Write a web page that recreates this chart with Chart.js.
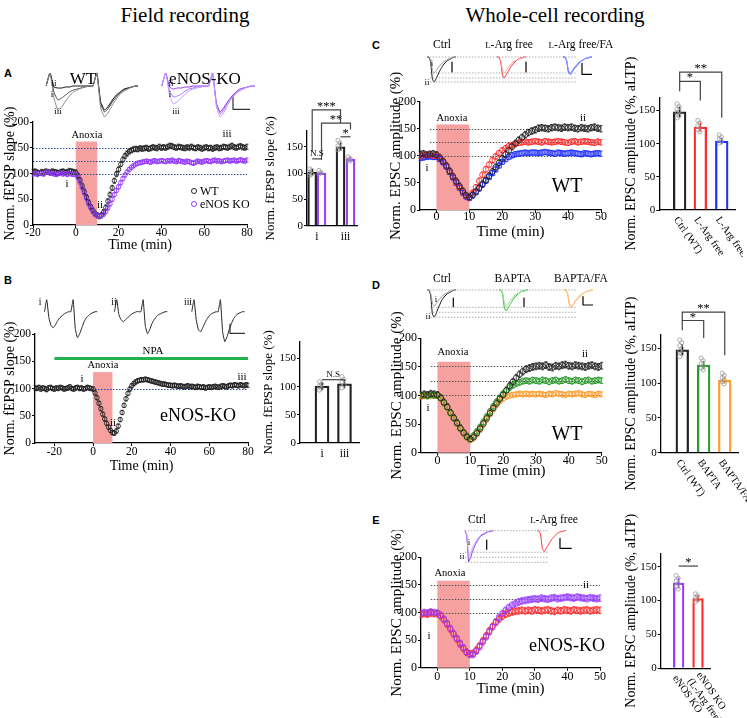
<!DOCTYPE html>
<html>
<head>
<meta charset="utf-8">
<title>Anoxic LTP</title>
<script src="https://cdn.jsdelivr.net/npm/chart.js@4.4.1/dist/chart.umd.min.js"></script>
<style>
  body { margin: 0; background: #fff; }
  #fig { position: relative; width: 747px; height: 718px; overflow: hidden; font-family: 'Liberation Serif', 'Times New Roman', serif; color: #000; }
  #fig canvas { position: absolute; }
  .c { position: absolute; white-space: nowrap; line-height: 1; transform: translate(-50%, -50%); }
  .l { position: absolute; white-space: nowrap; line-height: 1; transform: translateY(-50%); }
  .p { font-family: 'Liberation Sans', Arial, sans-serif; font-weight: bold; font-size: 11px; }
  .dot { position: absolute; width: 4px; height: 4px; border: 1px solid; border-radius: 50%; transform: translate(-50%, -50%); }
  .sc { font-size: 0.78em; }
</style>
</head>
<body>
<div id="fig">
  <div class="c" style="left:185px;top:15px;font-size:21px">Field recording</div>
  <div class="c" style="left:555px;top:15px;font-size:21px">Whole-cell recording</div>
  <div class="c p" style="left:8px;top:73px">A</div>
  <div class="c p" style="left:8px;top:280px">B</div>
  <div class="c p" style="left:376px;top:45px">C</div>
  <div class="c p" style="left:376px;top:285px">D</div>
  <div class="c p" style="left:376px;top:520px">E</div>

  <canvas id="trA1" width="100" height="55" style="left:38px;top:70px"></canvas>
  <canvas id="trA2" width="100" height="55" style="left:155px;top:70px"></canvas>
  <canvas id="aTime" width="255" height="154" style="left:0;top:100px"></canvas>
  <canvas id="aBar" width="100" height="150" style="left:262px;top:95px"></canvas>
  <canvas id="trB" width="215" height="50" style="left:38px;top:293px"></canvas>
  <canvas id="bTime" width="256" height="155" style="left:0;top:320px"></canvas>
  <canvas id="bBar" width="106" height="140" style="left:258px;top:320px"></canvas>
  <canvas id="trC" width="180" height="42" style="left:425px;top:50px"></canvas>
  <canvas id="cTime" width="222" height="176" style="left:385px;top:65px"></canvas>
  <canvas id="cBar" width="125" height="230" style="left:618px;top:40px"></canvas>
  <canvas id="trD" width="180" height="42" style="left:425px;top:283px"></canvas>
  <canvas id="dTime" width="222" height="180" style="left:386px;top:300px"></canvas>
  <canvas id="dBar" width="129" height="215" style="left:618px;top:290px"></canvas>
  <canvas id="trE" width="125" height="45" style="left:455px;top:524px"></canvas>
  <canvas id="eTime" width="220" height="168" style="left:386px;top:530px"></canvas>
  <canvas id="eBar" width="129" height="213" style="left:618px;top:505px"></canvas>

  <!-- A -->
  <div class="c" style="left:83px;top:78px;font-size:17px">WT</div>
  <div class="c" style="left:205px;top:78px;font-size:17px">eNOS-KO</div>
  <div class="c" style="left:54px;top:83px;font-size:9px">ii</div>
  <div class="c" style="left:52px;top:94px;font-size:9px">i</div>
  <div class="c" style="left:58px;top:111px;font-size:9px">iii</div>
  <div class="c" style="left:171px;top:83px;font-size:9px">ii</div>
  <div class="c" style="left:170px;top:94px;font-size:9px">i</div>
  <div class="c" style="left:176px;top:111px;font-size:9px">iii</div>
  <div class="c" style="left:87px;top:135px;font-size:10.5px">Anoxia</div>
  <div class="c" style="left:67px;top:183px;font-size:11px">i</div>
  <div class="c" style="left:100px;top:204px;font-size:11px">ii</div>
  <div class="c" style="left:227px;top:133px;font-size:11px">iii</div>
  <span class="dot" style="left:194px;top:191px;border-color:#222"></span>
  <div class="l" style="left:200px;top:191px;font-size:12px">WT</div>
  <span class="dot" style="left:194px;top:204px;border-color:#963cff"></span>
  <div class="l" style="left:200px;top:204px;font-size:12px">eNOS KO</div>

  <!-- B -->
  <div class="c" style="left:40px;top:303px;font-size:9.5px">i</div>
  <div class="c" style="left:114px;top:303px;font-size:9.5px">ii</div>
  <div class="c" style="left:188px;top:303px;font-size:9.5px">iii</div>
  <div class="c" style="left:153px;top:350px;font-size:11px">NPA</div>
  <div class="c" style="left:103px;top:365px;font-size:10.5px">Anoxia</div>
  <div class="c" style="left:82px;top:378px;font-size:11px">i</div>
  <div class="c" style="left:113px;top:422px;font-size:11px">ii</div>
  <div class="c" style="left:242px;top:376px;font-size:11px">iii</div>
  <div class="c" style="left:198px;top:415px;font-size:18px">eNOS-KO</div>

  <!-- C -->
  <div class="c" style="left:442px;top:45px;font-size:11.5px">Ctrl</div>
  <div class="c" style="left:509px;top:45px;font-size:11.5px"><span class="sc">L</span>-Arg free</div>
  <div class="c" style="left:581px;top:45px;font-size:11.5px"><span class="sc">L</span>-Arg free/FA</div>
  <div class="c" style="left:432px;top:63px;font-size:9px">i</div>
  <div class="c" style="left:427px;top:82px;font-size:9px">ii</div>
  <div class="c" style="left:452px;top:118px;font-size:10.5px">Anoxia</div>
  <div class="c" style="left:427px;top:167px;font-size:11px">i</div>
  <div class="c" style="left:583px;top:117px;font-size:11px">ii</div>
  <div class="c" style="left:567px;top:185px;font-size:20px">WT</div>

  <!-- D -->
  <div class="c" style="left:442px;top:279px;font-size:11.5px">Ctrl</div>
  <div class="c" style="left:513px;top:279px;font-size:11.5px">BAPTA</div>
  <div class="c" style="left:581px;top:279px;font-size:11.5px">BAPTA/FA</div>
  <div class="c" style="left:436px;top:299px;font-size:9px">i</div>
  <div class="c" style="left:428px;top:316px;font-size:9px">ii</div>
  <div class="c" style="left:453px;top:352px;font-size:10.5px">Anoxia</div>
  <div class="c" style="left:428px;top:407px;font-size:11px">i</div>
  <div class="c" style="left:585px;top:353px;font-size:11px">ii</div>
  <div class="c" style="left:567px;top:433px;font-size:20px">WT</div>

  <!-- E -->
  <div class="c" style="left:477px;top:520px;font-size:11.5px">Ctrl</div>
  <div class="c" style="left:554px;top:520px;font-size:11.5px"><span class="sc">L</span>-Arg free</div>
  <div class="c" style="left:469px;top:542px;font-size:9px">i</div>
  <div class="c" style="left:462px;top:556px;font-size:9px">ii</div>
  <div class="c" style="left:450px;top:573px;font-size:10.5px">Anoxia</div>
  <div class="c" style="left:429px;top:635px;font-size:11px">i</div>
  <div class="c" style="left:586px;top:584px;font-size:11px">ii</div>
  <div class="c" style="left:567px;top:645px;font-size:18px">eNOS-KO</div>
</div>

<script>
const serif = "'Liberation Serif', 'Times New Roman', serif"
Chart.defaults.font.family = serif

// time courses, one value per minute starting at the given time
const startA = -20
const wtA = [103, 104, 102, 101, 103, 102, 104, 103, 102, 104, 103, 102, 101, 103, 104, 102, 103, 105, 104, 103,
  102, 96, 87, 76, 65, 54, 44, 35, 28, 22, 19,
  17, 19, 25, 34, 46, 59, 72, 86, 99, 108,
  118, 127, 134, 139, 143, 145, 147, 148, 147, 149,
  148, 149, 150, 148, 149, 151, 150, 149, 152, 150,
  151, 150, 152, 154, 153, 151, 150, 152, 151, 150,
  149, 151, 150, 152, 150, 149, 151, 150, 148, 150,
  151, 149, 150, 148, 150, 151, 149, 150, 152, 151,
  150, 152, 154, 151, 150, 152, 153, 151, 150, 152]
const koA = [99, 100, 98, 101, 100, 99, 102, 103, 101, 100, 99, 98, 100, 101, 99, 100, 98, 100, 99, 98,
  98, 92, 83, 72, 62, 51, 41, 33, 26, 21, 18,
  17, 18, 21, 26, 33, 41, 50, 59, 67, 74,
  82, 90, 97, 103, 108, 112, 115, 118, 120, 121,
  122, 123, 124, 123, 122, 124, 125, 123, 124, 125,
  124, 123, 125, 124, 126, 124, 123, 125, 124, 123,
  122, 124, 123, 121, 120, 122, 124, 123, 122, 124,
  125, 124, 123, 125, 126, 124, 125, 123, 124, 125,
  126, 124, 125, 126, 124, 125, 127, 125, 124, 126]

const startB = -30
const npaB = [101, 100, 102, 99, 101, 100, 98, 101, 102, 100, 99, 101, 100, 102, 101, 99, 100, 101, 103, 100,
  99, 101, 102, 100, 101, 99, 100, 102, 101, 100,
  99, 92, 83, 73, 63, 53, 44, 36, 29, 23, 19,
  18, 22, 31, 43, 56, 69, 81, 91, 99, 105,
  109, 112, 114, 115, 116, 116, 117, 116, 115, 114,
  113, 112, 111, 110, 109, 108, 108, 107, 106, 106,
  105, 106, 105, 104, 105, 104, 103, 104, 105, 103,
  104, 103, 102, 104, 103, 102, 103, 101, 102, 103,
  102, 103, 104, 103, 102, 104, 105, 104, 103, 105,
  106, 105, 107, 106, 105, 107, 106, 105, 107, 106]

const startCell = -5
const ctrlC = [103, 104, 102, 103, 104,
  102, 97, 90, 82, 72, 62, 53, 44, 35, 27, 24,
  28, 34, 41, 48, 55, 63, 71, 79, 87, 95,
  103, 110, 117, 123, 129, 134, 139, 143, 146, 148,
  151, 152, 151, 150, 152, 153, 152, 151, 153, 152,
  153, 151, 150, 152, 151, 150, 152, 153, 151, 150]
const argFreeC = [100, 101, 103, 102, 100,
  100, 96, 90, 81, 71, 61, 51, 42, 33, 26, 23,
  32, 42, 54, 65, 75, 84, 92, 99, 105, 110,
  114, 118, 120, 122, 124, 125, 126, 125, 126, 127,
  126, 125, 127, 126, 125, 126, 127, 126, 125, 124,
  126, 127, 125, 126, 127, 126, 125, 124, 126, 125]
const argFreeFaC = [96, 97, 98, 99, 98,
  98, 94, 88, 80, 70, 60, 50, 41, 32, 25, 22,
  27, 33, 40, 47, 54, 61, 68, 75, 82, 89,
  94, 98, 101, 103, 104, 105, 106, 105, 106, 106,
  105, 106, 107, 106, 105, 104, 106, 105, 104, 105,
  106, 105, 104, 103, 105, 104, 103, 104, 105, 104]

const ctrlD = [100, 102, 101, 103, 102,
  101, 96, 88, 80, 70, 61, 52, 43, 35, 28, 24,
  27, 34, 42, 51, 60, 69, 78, 86, 94, 101,
  109, 117, 124, 131, 137, 142, 146, 148, 150, 151,
  152, 151, 153, 150, 149, 152, 151, 153, 154, 152,
  151, 153, 152, 151, 150, 152, 153, 151, 150, 152]
const baptaD = [101, 100, 99, 101, 100,
  100, 95, 87, 79, 69, 60, 51, 42, 34, 27, 23,
  30, 37, 45, 54, 63, 72, 81, 89, 96, 103,
  109, 114, 118, 121, 123, 125, 126, 125, 127, 126,
  125, 127, 126, 124, 126, 127, 125, 126, 128, 126,
  125, 127, 126, 124, 126, 127, 125, 126, 127, 126]
const baptaFaD = [98, 99, 100, 99, 100,
  99, 94, 86, 78, 68, 59, 50, 41, 33, 26, 22,
  26, 33, 41, 50, 59, 68, 76, 84, 90, 95,
  98, 100, 101, 102, 103, 102, 103, 102, 103, 102,
  103, 102, 101, 103, 102, 104, 103, 102, 101, 103,
  102, 103, 104, 102, 101, 103, 102, 101, 103, 102]

const koE = [98, 100, 99, 101, 100,
  99, 95, 88, 80, 71, 62, 53, 44, 36, 28, 24,
  24, 30, 38, 47, 56, 65, 74, 83, 91, 98,
  104, 109, 113, 116, 119, 121, 122, 123, 124, 125,
  124, 126, 125, 124, 126, 127, 125, 126, 127, 128,
  127, 126, 128, 127, 126, 125, 127, 126, 125, 126]
const argFreeE = [97, 98, 97, 99, 98,
  98, 94, 87, 79, 70, 61, 52, 43, 35, 28, 25,
  26, 32, 40, 49, 58, 67, 75, 82, 88, 93,
  97, 99, 101, 102, 103, 104, 103, 104, 103, 105,
  104, 103, 104, 105, 103, 102, 104, 103, 105, 104,
  103, 105, 104, 103, 104, 105, 103, 104, 105, 104]

const anoxia = [0, 10]
const fieldTicks = [-20, 0, 20, 40, 60, 80]
const cellTicks = [0, 10, 20, 30, 40, 50]
const normTicks = [0, 50, 100, 150, 200]
const barTicks = [0, 50, 100, 150]

// summary bars
const fieldPhases = ['i', 'iii']
const barWtA = [102, 150]
const barKoA = [100, 126]
const semWtA = [6, 8]
const semKoA = [3, 4]
const dotsWtA = [[108, 105, 101, 98, 96], [162, 157, 152, 147, 144]]
const dotsKoA = [[105, 101, 98], [131, 128, 125, 123]]

const barB = [101, 105]
const semB = [7, 8]
const dotsB = [[109, 105, 101, 97, 94], [118, 113, 108, 103, 98]]

const groupsC = [['Ctrl (WT)'], ['L-Arg free'], ['L-Arg free/FA']]
const barC = [148, 125, 104]
const semC = [8, 7, 5]
const dotsC = [[160, 156, 152, 149, 146, 142, 139], [135, 131, 127, 124, 121, 118], [113, 110, 107, 104, 101]]

const groupsD = [['Ctrl (WT)'], ['BAPTA'], ['BAPTA/FA']]
const barD = [148, 126, 104]
const semD = [8, 6, 5]
const dotsD = [[162, 158, 154, 150, 146, 142, 138], [136, 132, 128, 125, 122, 119], [114, 111, 108, 105, 102, 99]]

const groupsE = [['eNOS KO'], ['eNOS KO', '(L-Arg free)']]
const barE = [126, 103]
const semE = [8, 5]
const dotsE = [[137, 133, 129, 125, 121, 117], [110, 107, 104, 101, 98]]

// example traces
const fWt = [
  [0, 13, -6, -14, -12, -9, -6, -4, -3, -2, -1, 0, 0, 13, -18, -26, -22, -16, -11, -7, -4, -2, -1, 0, 0],
  [0, 13, -1, -2, -2, -1, -1, 0, 0, 0, 0, 0, 0, 13, -16, -24, -20, -14, -9, -6, -3, -2, -1, 0, 0],
  [0, 13, -12, -24, -21, -15, -10, -6, -4, -2, -1, 0, 0, 13, -22, -31, -26, -19, -13, -8, -5, -3, -1, 0, 0],
]
const fKo = [
  [0, 13, -5, -11, -10, -8, -5, -3, -2, -1, -1, 0, 0, 13, -18, -28, -23, -16, -11, -7, -4, -2, -1, 0, 0],
  [0, 13, -1, -3, -2, -2, -1, -1, 0, 0, 0, 0, 0, 13, -17, -26, -21, -15, -10, -6, -3, -2, -1, 0, 0],
  [0, 13, -10, -18, -16, -12, -8, -5, -3, -2, -1, 0, 0, 13, -21, -31, -26, -18, -12, -8, -5, -3, -1, 0, 0],
]
const fNpa = [
  [0, 12, -6, -14, -16, -13, -9, -6, -4, -2, -1, 0, 0, 12, -17, -26, -22, -16, -10, -6, -4, -2, -1, 0, 0],
  [0, 12, -3, -8, -10, -8, -6, -4, -2, -1, 0, 0, 0, 12, -14, -22, -18, -12, -8, -5, -3, -2, -1, 0, 0],
  [0, 12, -8, -18, -20, -16, -11, -7, -4, -2, -1, 0, 0, 12, -20, -30, -25, -18, -12, -7, -4, -2, -1, 0, 0],
]
const epscSmall = [0, 0, -3, -13, -16, -14, -11, -9, -7, -5, -4, -3, -2, -1, -1, 0, 0]
const epscCtrl = [0, 0, -5, -22, -25, -22, -18, -14, -11, -8, -6, -4, -3, -2, -1, 0, 0]
const epscCtrlD = [0, 0, -5, -24, -27, -24, -19, -15, -11, -8, -6, -4, -3, -2, -1, 0, 0]
const epscMid = [0, 0, -4, -18, -21, -18, -15, -12, -9, -7, -5, -3, -2, -1, -1, 0, 0]
const epscLow = [0, 0, -4, -15, -17.5, -15, -12, -10, -8, -6, -4, -3, -2, -1, -1, 0, 0]
const epscKo = [0, -5, -31, -27, -22, -17, -13, -10, -7, -5, -4, -3, -2, -1, -1, 0, 0]
const epscKoI = [0, -4, -26, -22, -18, -14, -11, -8, -6, -4, -3, -2, -1, -1, 0, 0, 0]

const black = '#222'
const purple = '#963cff'
const red = '#ff2a2a'
const blue = '#2030ff'
const green = '#2a9a2a'
const orange = '#ff9d2e'

const el = id => document.getElementById(id)

function series (t0, vals, color, sem, r, style) {
  return {
    data: vals.map((v, i) => ({ x: t0 + i, y: v })),
    borderColor: color,
    backgroundColor: 'rgba(255,255,255,0)',
    pointRadius: r,
    pointBorderWidth: 0.9,
    pointStyle: style || 'circle',
    sem,
  }
}

function timeDeco (o) {
  return {
    id: 'timeDeco',
    beforeDatasetsDraw (chart) {
      const { ctx, scales: { x, y } } = chart
      ctx.save()
      ctx.fillStyle = '#f6a0a0'
      const l = x.getPixelForValue(anoxia[0])
      const r = x.getPixelForValue(anoxia[1])
      const t = y.getPixelForValue(o.boxTop)
      const b = y.getPixelForValue(0)
      ctx.fillRect(l, t, r - l, b - t)

      ctx.strokeStyle = o.levelColor
      ctx.lineWidth = 1
      ctx.setLineDash([1.5, 1.5])
      o.levels.forEach(v => {
        const py = Math.round(y.getPixelForValue(v)) + 0.5
        ctx.beginPath()
        ctx.moveTo(x.getPixelForValue(o.levelFrom), py)
        ctx.lineTo(x.getPixelForValue(x.max), py)
        ctx.stroke()
      })
      ctx.setLineDash([])

      if (o.drug) {
        ctx.strokeStyle = '#22b14c'
        ctx.lineWidth = 3
        const py = y.getPixelForValue(o.drug.level)
        ctx.beginPath()
        ctx.moveTo(x.getPixelForValue(o.drug.from), py)
        ctx.lineTo(x.getPixelForValue(o.drug.to), py)
        ctx.stroke()
      }

      // error bars (SEM)
      chart.data.datasets.forEach((ds, i) => {
        ctx.strokeStyle = ds.borderColor
        ctx.lineWidth = 0.8
        chart.getDatasetMeta(i).data.forEach((pt, j) => {
          const v = ds.data[j].y
          const top = y.getPixelForValue(v + ds.sem)
          const bot = y.getPixelForValue(v - ds.sem)
          ctx.beginPath()
          ctx.moveTo(pt.x, top); ctx.lineTo(pt.x, bot)
          ctx.moveTo(pt.x - 1.5, top); ctx.lineTo(pt.x + 1.5, top)
          ctx.moveTo(pt.x - 1.5, bot); ctx.lineTo(pt.x + 1.5, bot)
          ctx.stroke()
        })
      })
      ctx.restore()
    },
  }
}

function timeChart (id, sets, o) {
  return new Chart(el(id), {
    type: 'scatter',
    data: { datasets: sets },
    options: {
      responsive: false,
      animation: false,
      events: [],
      layout: { padding: o.pad, autoPadding: false },
      plugins: { legend: { display: false }, tooltip: { enabled: false } },
      scales: {
        x: {
          type: 'linear',
          min: o.xr[0],
          max: o.xr[1],
          afterBuildTicks: s => { s.ticks = o.xticks.map(v => ({ value: v })) },
          afterFit: s => { s.height = o.xh },
          grid: { drawOnChartArea: false, tickLength: 3, color: '#000' },
          border: { color: '#000', width: 1.3 },
          ticks: { color: '#000', font: { size: o.tf }, padding: o.tpad, maxRotation: 0, autoSkip: false },
          title: { display: true, text: 'Time (min)', color: '#000', font: { size: o.ttf }, padding: 0 },
        },
        y: {
          min: 0,
          max: 200,
          afterBuildTicks: s => { s.ticks = normTicks.map(v => ({ value: v })) },
          afterFit: s => { s.width = o.yw },
          grid: { drawOnChartArea: false, tickLength: 3, color: '#000' },
          border: { color: '#000', width: 1.3 },
          ticks: { color: '#000', font: { size: o.tf }, padding: 1 },
          title: { display: true, text: o.ytitle, color: '#000', font: { size: o.ttf }, padding: { top: 2, bottom: 0 } },
        },
      },
    },
    plugins: [timeDeco(o)],
  })
}

function barDeco (o) {
  return {
    id: 'barDeco',
    afterDatasetsDraw (chart) {
      const { ctx, scales: { y } } = chart
      const bars = chart.getDatasetMeta(0).data
      ctx.save()
      bars.forEach((b, j) => {
        const v = o.vals[j]
        ctx.strokeStyle = o.colors[j]
        ctx.lineWidth = 1.5
        ctx.beginPath()
        ctx.moveTo(b.x, y.getPixelForValue(v - o.sem[j]))
        ctx.lineTo(b.x, y.getPixelForValue(v + o.sem[j]))
        ctx.stroke()
      })
      ctx.strokeStyle = '#9a9a9a'
      ctx.lineWidth = 0.8
      o.dots.forEach((list, j) => list.forEach((v, k) => {
        ctx.beginPath()
        ctx.arc(bars[j].x + (k % 2 ? -0.5 : -2.5), y.getPixelForValue(v), 2.1, 0, Math.PI * 2)
        ctx.stroke()
      }))
      ctx.strokeStyle = '#444'
      ctx.fillStyle = '#000'
      ctx.lineWidth = 1.2
      ctx.textAlign = 'center'
      ctx.textBaseline = 'bottom'
      o.brackets.forEach(k => {
        const xa = bars[k.a].x
        const xb = bars[k.b].x
        const yt = y.getPixelForValue(k.top)
        ctx.beginPath()
        ctx.moveTo(xa, y.getPixelForValue(k.legA))
        ctx.lineTo(xa, yt)
        ctx.lineTo(xb, yt)
        ctx.lineTo(xb, y.getPixelForValue(k.legB))
        ctx.stroke()
        ctx.font = (k.text === 'N.S' ? 9 : 12.5) + 'px ' + serif
        ctx.fillText(k.text, (xa + xb) / 2, yt + (k.text === 'N.S' ? -0.5 : 3))
      })
      if (o.rotLabels) {
        const by = y.getPixelForValue(0)
        ctx.font = '10.5px ' + serif
        ctx.textAlign = 'left'
        ctx.textBaseline = 'middle'
        o.rotLabels.forEach((lines, j) => {
          ctx.save()
          ctx.translate(bars[j].x - 4, by + 8)
          ctx.rotate(55 * Math.PI / 180)
          lines.forEach((s, k) => ctx.fillText(s, 0, (k - (lines.length - 1) / 2) * 11))
          ctx.restore()
        })
      }
      ctx.restore()
    },
  }
}

function barChart (id, o) {
  return new Chart(el(id), {
    type: 'bar',
    data: {
      datasets: [{
        data: o.pos.map((p, i) => ({ x: p, y: o.vals[i] })),
        backgroundColor: 'rgba(255,255,255,0)',
        borderColor: o.colors,
        borderWidth: 1.6,
        barThickness: o.bw,
      }],
    },
    options: {
      responsive: false,
      animation: false,
      events: [],
      layout: { padding: o.pad, autoPadding: false },
      plugins: { legend: { display: false }, tooltip: { enabled: false } },
      scales: {
        x: {
          type: 'linear',
          min: 0,
          max: 1,
          offset: false,
          afterBuildTicks: s => { s.ticks = o.tickPos.map(v => ({ value: v })) },
          afterFit: s => { s.height = o.xh },
          grid: { drawOnChartArea: false, drawTicks: false, offset: false },
          border: { color: '#000', width: 1.3 },
          ticks: {
            display: !o.rotLabels,
            callback: (v, i) => o.labels[i],
            color: '#000',
            font: { size: 11.5 },
            padding: 4,
            maxRotation: 0,
            autoSkip: false,
          },
        },
        y: {
          min: 0,
          max: o.ymax,
          afterBuildTicks: s => { s.ticks = barTicks.map(v => ({ value: v })) },
          afterFit: s => { s.width = o.yw },
          grid: { drawOnChartArea: false, tickLength: 3, color: '#000' },
          border: { color: '#000', width: 1.3 },
          ticks: { color: '#000', font: { size: 11 }, padding: 1 },
          title: { display: true, text: o.ytitle, color: '#000', font: { size: o.ttf }, padding: { top: o.tp, bottom: 0 } },
        },
      },
    },
    plugins: [barDeco(o)],
  })
}

function traceChart (id, sets, xr, yr) {
  return new Chart(el(id), {
    type: 'line',
    data: { datasets: sets },
    options: {
      responsive: false,
      animation: false,
      events: [],
      layout: { padding: 0, autoPadding: false },
      plugins: { legend: { display: false }, tooltip: { enabled: false } },
      scales: {
        x: { type: 'linear', display: false, min: xr[0], max: xr[1] },
        y: { display: false, min: yr[0], max: yr[1] },
      },
      elements: { point: { radius: 0 }, line: { tension: 0.15, borderJoinStyle: 'round' } },
    },
  })
}

const tr = (vals, x0, dt, color, w = 1) => ({
  data: vals.map((v, i) => ({ x: x0 + i * dt, y: v })), borderColor: color, borderWidth: w, fill: false,
})
const guide = (y, x0, x1) => ({
  data: [{ x: x0, y }, { x: x1, y }], borderColor: '#9a9a9a', borderWidth: 0.8, borderDash: [1.5, 1.5], fill: false,
})
const mark = (pts, color = '#000') => ({
  data: pts.map(([x, y]) => ({ x, y })), borderColor: color, borderWidth: 1.2, fill: false, tension: 0,
})

// ---- A ----
traceChart('trA1', [
  tr(fWt[2], 8.1, 3.9, '#8a8a8a'), tr(fWt[0], 8.1, 3.9, '#444'), tr(fWt[1], 8.1, 3.9, '#000'),
], [0, 100], [-39, 16])
traceChart('trA2', [
  tr(fKo[2], 6.8, 3.9, '#c29cff'), tr(fKo[0], 6.8, 3.9, '#a46cff'), tr(fKo[1], 6.8, 3.9, '#8a2be2'),
  mark([[78, -10.7], [78, -23.3], [95, -23.3]], '#333'),
], [0, 100], [-39, 16])

timeChart('aTime', [
  series(startA, koA, purple, 4, 2.2),
  series(startA, wtA, black, 5, 2.2),
], {
  pad: { left: 0, top: 22, right: 8, bottom: 0 }, yw: 33, xh: 29, xr: [-20, 80], xticks: fieldTicks,
  tf: 11.5, ttf: 14, tpad: -2, ytitle: 'Norm. fEPSP slope (%)', boxTop: 162,
  levels: [150, 125, 100], levelColor: '#2a4a9a', levelFrom: -20,
})

barChart('aBar', {
  pos: [0.104, 0.29, 0.67, 0.87], tickPos: [0.197, 0.77], labels: fieldPhases, bw: 9,
  vals: [barWtA[0], barKoA[0], barWtA[1], barKoA[1]],
  sem: [semWtA[0], semKoA[0], semWtA[1], semKoA[1]],
  dots: [dotsWtA[0], dotsKoA[0], dotsWtA[1], dotsKoA[1]],
  colors: [black, purple, black, purple],
  brackets: [
    { a: 0, b: 1, top: 127, legA: 127, legB: 127, text: 'N.S' },
    { a: 2, b: 3, top: 169, legA: 169, legB: 169, text: '*' },
    { a: 1, b: 3, top: 195, legA: 125, legB: 183, text: '**' },
    { a: 0, b: 2, top: 220, legA: 140, legB: 195, text: '***' },
  ],
  pad: { left: 0, top: 36, right: 5, bottom: 0 }, yw: 45, xh: 19.3, ymax: 180,
  ytitle: 'Norm. fEPSP slope (%)', ttf: 13, tp: 1,
})

// ---- B ----
traceChart('trB', [
  tr(fNpa[0], 6.5, 2.2, '#222'), tr(fNpa[1], 76.5, 2.2, '#222'), tr(fNpa[2], 153.8, 2.2, '#222'),
  mark([[192, -12.3], [192, -21.6], [207, -21.6]], '#333'),
], [0, 215], [-31.3, 18.7])

timeChart('bTime', [series(startB, npaB, black, 4, 2.2)], {
  pad: { left: 0, top: 14, right: 8, bottom: 0 }, yw: 35, xh: 32, xr: [-30, 80], xticks: fieldTicks,
  tf: 11.5, ttf: 14, tpad: -1, ytitle: 'Norm. fEPSP slope (%)', boxTop: 130,
  levels: [100], levelColor: '#2a4a9a', levelFrom: -30,
  drug: { from: -20, to: 80, level: 155 },
})

barChart('bBar', {
  pos: [0.373, 0.754], tickPos: [0.373, 0.754], labels: fieldPhases, bw: 14,
  vals: barB, sem: semB, dots: dotsB, colors: [black, black],
  brackets: [{ a: 0, b: 1, top: 112.5, legA: 112.5, legB: 112.5, text: 'N.S' }],
  pad: { left: 0, top: 21.7, right: 5, bottom: 0 }, yw: 42, xh: 17, ymax: 180,
  ytitle: 'Norm. fEPSP slope (%)', ttf: 13, tp: 3,
})

// ---- C ----
traceChart('trC', [
  guide(0, 5, 152), guide(-16, 5, 152), guide(-21, 5, 152), guide(-25, 5, 152),
  tr(epscSmall, 2, 1.8, '#9a9a9a'), tr(epscCtrl, 2, 1.8, '#111'),
  tr(epscSmall, 72, 1.8, '#ff9a9a'), tr(epscMid, 72, 1.8, red),
  tr(epscSmall, 138, 1.8, '#8f9aff'), tr(epscLow, 138, 1.8, blue),
  mark([[27, -5], [27, -15]]), mark([[101, -5], [101, -15]]),
  mark([[157, -6.3], [157, -17.3], [167, -17.3]]),
], [0, 180], [-35, 7])

timeChart('cTime', [
  series(startCell, ctrlC, black, 6, 2.8),
  series(startCell, argFreeC, red, 5, 2.8),
  series(startCell, argFreeFaC, blue, 5, 3.3, 'rect'),
], {
  pad: { left: 0, top: 36.7, right: 6, bottom: 0 }, yw: 35, xh: 31, xr: [-5, 50], xticks: cellTicks,
  tf: 12, ttf: 15, tpad: -3, ytitle: 'Norm. EPSC amplitude (%)', boxTop: 158,
  levels: [150, 126, 100], levelColor: '#555', levelFrom: -2,
})

barChart('cBar', {
  pos: [0.269, 0.542, 0.825], tickPos: [0.269, 0.542, 0.825], labels: groupsC, rotLabels: groupsC, bw: 12.7,
  vals: barC, sem: semC, dots: dotsC, colors: [black, red, blue],
  brackets: [
    { a: 0, b: 1, top: 194, legA: 179, legB: 165, text: '*' },
    { a: 0, b: 2, top: 208, legA: 194, legB: 139, text: '**' },
  ],
  pad: { left: 0, top: 57.3, right: 8, bottom: 0 }, yw: 41.3, xh: 60, ymax: 170,
  ytitle: 'Norm. EPSC amplitude (%, aLTP)', ttf: 14, tp: 5,
})

// ---- D ----
traceChart('trD', [
  guide(0, 5, 152), guide(-17.3, 5, 152), guide(-22.3, 5, 152), guide(-27.3, 5, 152),
  tr(epscSmall, 2, 1.8, '#9a9a9a'), tr(epscCtrlD, 2, 1.8, '#111'),
  tr(epscSmall, 74, 1.8, '#8fd88f'), tr(epscMid, 74, 1.8, '#22c022'),
  tr(epscSmall, 139, 1.8, '#ffc98a'), tr(epscLow, 139, 1.8, orange),
  mark([[28.3, -8], [28.3, -16.7]]), mark([[99, -8], [99, -16.7]]),
  mark([[158, -6.7], [158, -15], [168, -15]]),
], [0, 180], [-35, 7])

timeChart('dTime', [
  series(startCell, ctrlD, black, 6, 2.8),
  series(startCell, baptaD, green, 5, 2.8),
  series(startCell, baptaFaD, orange, 4, 2.8),
], {
  pad: { left: 0, top: 38.3, right: 6.3, bottom: 0 }, yw: 35, xh: 27.3, xr: [-5, 50], xticks: cellTicks,
  tf: 12, ttf: 15, tpad: -2, ytitle: 'Norm. EPSC amplitude (%)', boxTop: 159,
  levels: [151, 126, 101], levelColor: '#555', levelFrom: -2,
})

barChart('dBar', {
  pos: [0.278, 0.554, 0.825], tickPos: [0.278, 0.554, 0.825], labels: groupsD, rotLabels: groupsD, bw: 12.7,
  vals: barD, sem: semD, dots: dotsD, colors: [black, green, orange],
  brackets: [
    { a: 0, b: 1, top: 190, legA: 176, legB: 165, text: '*' },
    { a: 0, b: 2, top: 202, legA: 190, legB: 140, text: '**' },
  ],
  pad: { left: 0, top: 44.4, right: 8.7, bottom: 0 }, yw: 42.7, xh: 52.3, ymax: 170,
  ytitle: 'Norm. EPSC amplitude (%, aLTP)', ttf: 14, tp: 5,
})

// ---- E ----
traceChart('trE', [
  guide(0, 10, 93.3), guide(-21.6, 10, 93.3), guide(-26.6, 10, 93.3), guide(-31.6, 10, 93.3),
  tr(epscKoI, 10, 1.8, '#c29cff'), tr(epscKo, 10, 1.8, '#8a2be2'),
  tr(epscMid, 82, 1.8, red),
  mark([[31.7, -9.3], [31.7, -18.6]]),
  mark([[105, -7.6], [105, -17.6], [116.7, -17.6]]),
], [0, 125], [-38.3, 6.7])

timeChart('eTime', [
  series(startCell, koE, purple, 6, 3.3, 'rect'),
  series(startCell, argFreeE, red, 6, 2.8),
], {
  pad: { left: 0, top: 27.3, right: 6, bottom: 0 }, yw: 35, xh: 30.3, xr: [-5, 50], xticks: cellTicks,
  tf: 12, ttf: 15, tpad: -1, ytitle: 'Norm. EPSC amplitude (%)', boxTop: 157.6,
  levels: [150, 125, 100], levelColor: '#555', levelFrom: -2,
})

barChart('eBar', {
  pos: [0.365, 0.757], tickPos: [0.365, 0.757], labels: groupsE, rotLabels: groupsE, bw: 10.7,
  vals: barE, sem: semE, dots: dotsE, colors: [purple, red],
  brackets: [{ a: 0, b: 1, top: 151, legA: 151, legB: 151, text: '*' }],
  pad: { left: 0, top: 48.2, right: 37, bottom: 0 }, yw: 42.7, xh: 49.7, ymax: 170,
  ytitle: 'Norm. EPSC amplitude (%, aLTP)', ttf: 14, tp: 5,
})
</script>
</body>
</html>
